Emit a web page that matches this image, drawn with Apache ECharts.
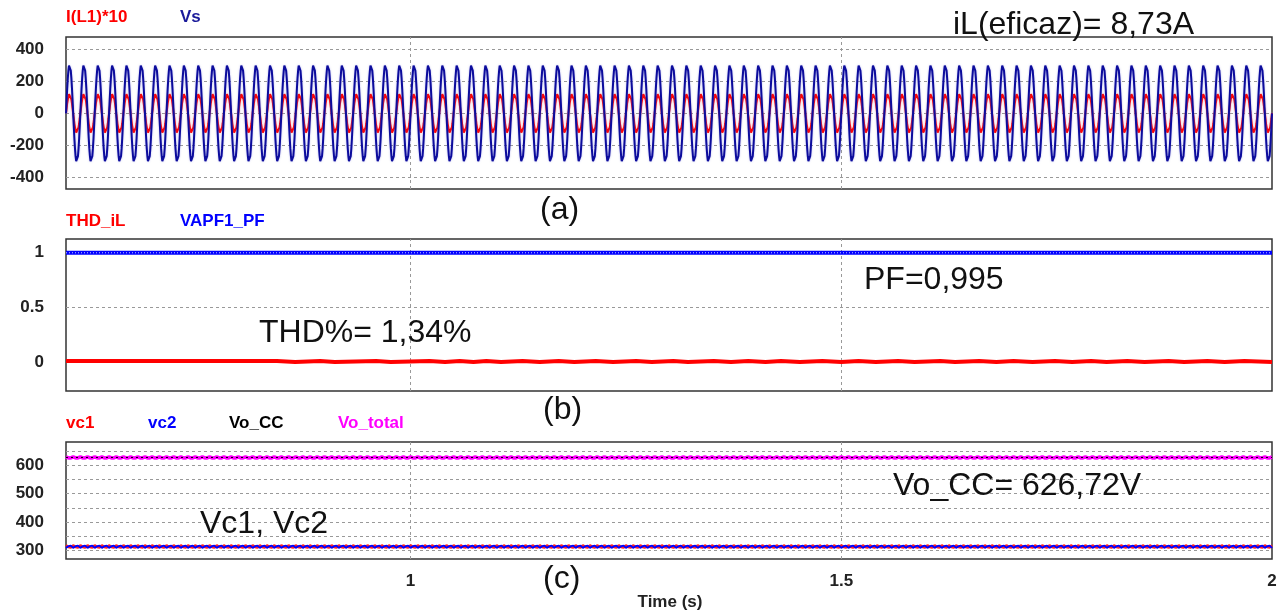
<!DOCTYPE html>
<html>
<head>
<meta charset="utf-8">
<script src="https://cdn.jsdelivr.net/npm/echarts@6/dist/echarts.min.js"></script>
<style>
  html, body { margin: 0; padding: 0; background: #fff; }
  #chart { width: 1281px; height: 611px; }
</style>
</head>
<body>
<div id="chart"></div>
<script>
// Simulation window and mains frequency
const T_START = 0.6;
const T_END = 2.0;
const LINE_FREQ = 60;

// Tick labels
const timeTicks = [1, 1.5, 2];
const ticksA = [-400, -200, 0, 200, 400];
const ticksB = [0, 0.5, 1];
const ticksC = [300, 400, 500, 600];
const gridLinesA = [-400, -200, 0, 200, 400];
const gridLinesB = [0, 0.5, 1];
const gridLinesC = [300, 350, 400, 450, 500, 550, 600, 650];
const gridLinesT = [1, 1.5];

// One steady-state mains cycle (24 samples), repeated over the window
const vsCycle = [0, 81, 156, 220, 269, 300, 311, 300, 269, 220, 156, 81,
                 0, -81, -156, -220, -269, -300, -311, -300, -269, -220, -156, -81];
const iL10Cycle = [2, 30, 64, 86, 106, 120, 121, 123, 108, 88, 62, 32,
                   -2, -30, -64, -86, -106, -120, -121, -123, -108, -88, -62, -32];

// DC-link ripple over one mains cycle (12 samples)
const vc1Cycle = [318, 316, 312, 309, 310, 314, 318, 316, 312, 309, 310, 314];
const vc2Cycle = [309, 311, 315, 318, 317, 313, 309, 311, 315, 318, 317, 313];
const voTotalCycle = [629, 627, 625, 624, 625, 627, 629, 627, 625, 624, 625, 627];
const voCC = 626.72;
const pfLevel = 0.995;

// THD of the line current: [time, value] steps
const thdSteps = [
  [0.600, 0.0134], [0.845, 0.004], [0.866, 0.0134], [0.895, 0.004], [0.912, 0.0134],
  [0.960, 0.004], [0.977, 0.0134], [1.022, 0.004], [1.040, 0.0134], [1.057, 0.004],
  [1.073, 0.0134], [1.088, 0.004], [1.105, 0.0134], [1.130, 0.004], [1.150, 0.0134],
  [1.172, 0.004], [1.190, 0.0134], [1.215, 0.004], [1.235, 0.0134], [1.262, 0.004],
  [1.280, 0.0134], [1.305, 0.004], [1.322, 0.0134], [1.352, 0.004], [1.372, 0.0134],
  [1.392, 0.004], [1.412, 0.0134], [1.430, 0.004], [1.452, 0.0134], [1.478, 0.004],
  [1.500, 0.0134], [1.520, 0.004], [1.540, 0.0134], [1.566, 0.004], [1.585, 0.0134],
  [1.615, 0.004], [1.632, 0.0134], [1.660, 0.004], [1.680, 0.0134], [1.700, 0.004],
  [1.722, 0.0134], [1.748, 0.004], [1.768, 0.0134], [1.790, 0.004], [1.808, 0.0134],
  [1.832, 0.004], [1.852, 0.0134], [1.880, 0.004], [1.898, 0.0134], [1.925, 0.004],
  [1.945, 0.0134], [1.968, 0.004], [2.000, 0.004]
];

// Repeat a one-cycle record across the simulation window
function tile(cycle) {
  const out = [];
  const n = cycle.length;
  const cycles = Math.round((T_END - T_START) * LINE_FREQ);
  for (let k = 0; k < cycles; k++) {
    for (let j = 0; j < n; j++) {
      out.push([T_START + (k + j / n) / LINE_FREQ, cycle[j]]);
    }
  }
  out.push([T_END, cycle[0]]);
  return out;
}
function flat(v) { return [[T_START, v], [T_END, v]]; }

const FONT = "'Liberation Sans', Arial, sans-serif";
const labelStyle = { fontFamily: FONT, fontWeight: 'bold', fontSize: 17, color: '#222' };
const gridLineStyle = { type: [3, 3], color: '#999', width: 1 };

function gridMarks(yVals) {
  return {
    silent: true, symbol: 'none', animation: false, z: 1,
    label: { show: false },
    lineStyle: gridLineStyle,
    data: yVals.map(v => ({ yAxis: v })).concat(gridLinesT.map(v => ({ xAxis: v })))
  };
}

const grids = [
  { left: 66, right: 9, top: 37, height: 152 },
  { left: 66, right: 9, top: 239, height: 152 },
  { left: 66, right: 9, top: 442, height: 117 }
].map(g => Object.assign(g, { show: true, borderColor: '#333', borderWidth: 1.5, backgroundColor: '#fff' }));

const xAxes = [0, 1, 2].map(i => ({
  type: 'value', gridIndex: i, min: T_START, max: T_END,
  axisLine: { show: false }, axisTick: { show: false }, splitLine: { show: false },
  axisLabel: Object.assign({ show: i === 2, customValues: timeTicks, margin: 14,
    formatter: v => String(v) }, labelStyle)
}));

const yRanges = [[-475, 480, ticksA], [-0.26, 1.12, ticksB], [270, 681, ticksC]];
const yAxes = yRanges.map((r, i) => ({
  type: 'value', gridIndex: i, min: r[0], max: r[1],
  axisLine: { show: false }, axisTick: { show: false }, splitLine: { show: false },
  axisLabel: Object.assign({ customValues: r[2], margin: 22, formatter: v => String(v) }, labelStyle)
}));

function line(name, data, gi, style, extra) {
  return Object.assign({
    name, type: 'line', data, xAxisIndex: gi, yAxisIndex: gi,
    showSymbol: false, symbol: 'none', sampling: 'none', animation: false,
    lineStyle: style, z: 2
  }, extra || {});
}

const series = [
  line('I(L1)*10', tile(iL10Cycle), 0,
    { color: '#ff0000', width: 2, shadowColor: 'rgba(255,110,110,0.45)', shadowBlur: 2 },
    { markLine: gridMarks(gridLinesA) }),
  line('Vs', tile(vsCycle), 0,
    { color: '#0c0c9c', width: 2, shadowColor: 'rgba(110,110,220,0.5)', shadowBlur: 2 }),

  line('THD_iL', thdSteps, 1, { color: '#ff0000', width: 4 },
    { step: 'end', markLine: gridMarks(gridLinesB) }),
  line('VAPF1_PF', flat(pfLevel), 1, { color: '#0000ff', width: 4 }),
  line('VAPF1_PF dots', flat(pfLevel), 1, { color: '#c8c8ff', width: 1, type: [1, 2] }, { z: 3 }),

  line('Vo_CC', flat(voCC), 2, { color: '#000', width: 1.5 },
    { markLine: gridMarks(gridLinesC) }),
  line('Vo_total', tile(voTotalCycle), 2, { color: '#ff00ff', width: 3.5 }),
  line('Vo_CC dots', flat(voCC), 2, { color: '#000', width: 1, type: [2, 3] }, { z: 3 }),
  line('vc1', tile(vc1Cycle), 2, { color: '#ff2020', width: 2.5 }),
  line('vc2', tile(vc2Cycle), 2, { color: '#0000ff', width: 2 })
];

function txt(text, x, y, fill, size, weight, align) {
  return {
    type: 'text', x, y, z: 100, silent: true,
    style: { text, fill, fontFamily: FONT, fontSize: size, fontWeight: weight || 'normal',
             align: align || 'left', verticalAlign: 'middle' }
  };
}

const graphic = [
  // trace names
  txt('I(L1)*10', 66, 17, '#ff0000', 17, 'bold'),
  txt('Vs', 180, 17, '#1a1a9a', 17, 'bold'),
  txt('THD_iL', 66, 221, '#ff0000', 17, 'bold'),
  txt('VAPF1_PF', 180, 221, '#0000ff', 17, 'bold'),
  txt('vc1', 66, 423, '#ff0000', 17, 'bold'),
  txt('vc2', 148, 423, '#0000ff', 17, 'bold'),
  txt('Vo_CC', 229, 423, '#000000', 17, 'bold'),
  txt('Vo_total', 338, 423, '#ff00ff', 17, 'bold'),
  // annotations
  txt('iL(eficaz)= 8,73A', 953, 25, '#111', 32),
  txt('(a)', 540, 210, '#111', 32),
  txt('THD%= 1,34%', 259, 333, '#111', 32),
  txt('PF=0,995', 864, 280, '#111', 32),
  txt('(b)', 543, 410, '#111', 32),
  txt('Vc1, Vc2', 200, 524, '#111', 32),
  txt('Vo_CC= 626,72V', 893, 486, '#111', 32),
  txt('(c)', 543, 579, '#111', 32),
  // axis title
  txt('Time (s)', 670, 602, '#222', 17, 'bold', 'center')
];

const chart = echarts.init(document.getElementById('chart'), null, { renderer: 'canvas' });
chart.setOption({
  backgroundColor: '#fff',
  animation: false,
  grid: grids,
  xAxis: xAxes,
  yAxis: yAxes,
  series,
  graphic
});
</script>
</body>
</html>
